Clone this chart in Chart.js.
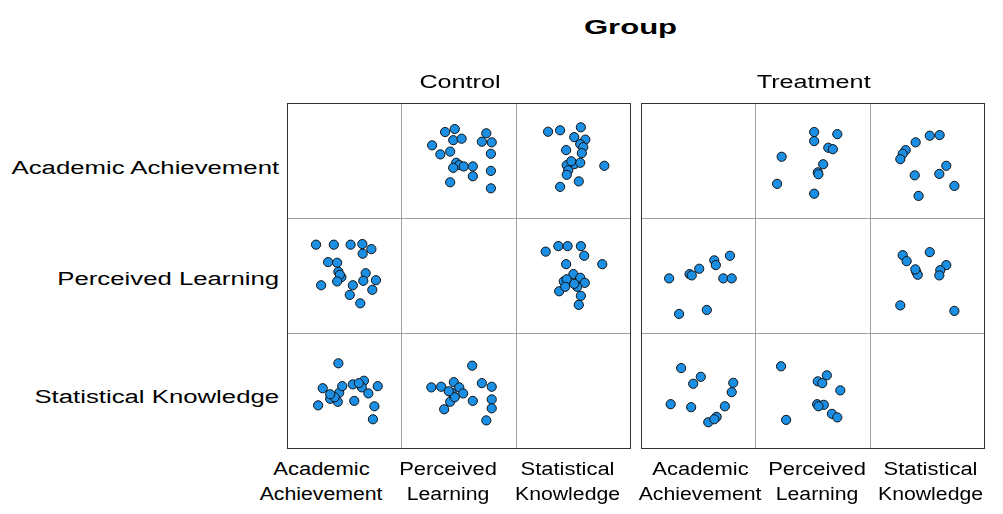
<!DOCTYPE html>
<html>
<head>
<meta charset="utf-8">
<title>Scatterplot matrix by group</title>
<script src="https://cdn.jsdelivr.net/npm/chart.js@4.4.1/dist/chart.umd.min.js"></script>
<style>
    body {
        margin: 0;
        background: #ffffff;
        font-family: "Liberation Sans", Arial, sans-serif;
        color: #000000;
    }

    #page {
        position: relative;
        width: 1003px;
        height: 514px;
        overflow: hidden;
    }

    .label {
        position: absolute;
        white-space: nowrap;
        font-size: 18px;
        line-height: 22px;
    }

    .title {
        font-weight: bold;
        font-size: 21px;
    }

    .cell {
        position: absolute;
    }

    .frame {
        position: absolute;
        box-sizing: border-box;
        border: 1px solid #333333;
        pointer-events: none;
    }

    .rule {
        position: absolute;
        background: #a0a0a0;
    }
</style>
</head>
<body>

<div id="page"></div>

<script>

const variables = ["Academic Achievement", "Perceived Learning", "Statistical Knowledge"];
const columnLabels = [
    ["Academic", "Achievement"],
    ["Perceived", "Learning"],
    ["Statistical", "Knowledge"]
];
const groups = ["Control", "Treatment"];

// scores on a 0-100 scale, each pair is [x, y]

// Control group
const controlLearningAchievement = [
    [37.1, 77.4], [46.4, 80.3], [44.9, 69.6], [53.0, 71.0], [24.6, 64.6],
    [32.5, 55.9], [42.0, 58.6], [47.8, 47.8], [50.7, 45.5], [55.1, 44.3],
    [44.9, 42.9], [63.8, 44.3], [63.8, 34.8], [42.0, 29.0], [76.8, 76.2],
    [72.5, 68.1], [82.0, 67.5], [81.2, 56.5], [81.2, 40.0], [81.2, 23.2]
];
const controlKnowledgeAchievement = [
    [25.5, 77.7], [37.1, 79.1], [57.1, 82.0], [50.7, 72.5], [61.4, 70.1],
    [56.5, 65.8], [59.4, 62.9], [42.9, 60.0], [58.0, 57.1], [50.7, 46.4],
    [43.5, 45.5], [56.5, 47.8], [44.9, 40.6], [43.5, 36.2], [37.1, 24.6],
    [55.1, 29.9], [79.7, 44.9], [47.8, 49.3]
];
const controlAchievementLearning = [
    [22.6, 79.7], [39.7, 79.7], [55.9, 79.7], [67.2, 80.3], [75.9, 75.4],
    [67.5, 71.0], [34.2, 62.9], [42.9, 62.3], [44.1, 53.6], [47.0, 48.4],
    [45.5, 50.7], [42.9, 44.3], [27.5, 40.6], [58.0, 40.6], [55.1, 31.3],
    [65.2, 23.2], [70.4, 52.2], [68.1, 44.9], [80.3, 45.5], [76.8, 36.2]
];
const controlKnowledgeLearning = [
    [23.2, 73.0], [35.4, 78.3], [44.3, 78.3], [57.1, 78.3], [60.3, 69.0],
    [77.7, 60.9], [42.9, 60.9], [49.9, 51.3], [56.5, 47.8], [40.6, 44.3],
    [43.5, 46.4], [60.9, 42.9], [53.6, 39.1], [36.2, 34.8], [42.0, 39.1],
    [57.1, 30.4], [55.1, 21.7], [50.7, 42.0]
];
const controlAchievementKnowledge = [
    [44.1, 76.2], [29.0, 52.2], [24.6, 35.7], [36.2, 42.0], [43.5, 39.1],
    [44.9, 47.8], [47.8, 54.2], [58.0, 55.9], [59.4, 40.0], [68.7, 59.4],
    [66.7, 53.0], [73.0, 47.2], [82.0, 54.2], [78.8, 34.8], [77.4, 22.3],
    [40.6, 43.5], [63.8, 57.1], [36.2, 46.4]
];
const controlLearningKnowledge = [
    [63.2, 73.9], [23.8, 53.0], [33.3, 53.6], [45.5, 58.0], [50.7, 53.0],
    [43.5, 47.8], [54.5, 47.2], [63.8, 40.0], [42.0, 39.1], [36.2, 31.9],
    [46.4, 43.5], [72.5, 57.1], [82.0, 53.6], [82.0, 41.4], [82.0, 32.8],
    [76.8, 21.2], [40.6, 49.3]
];

// Treatment group
const treatmentLearningAchievement = [
    [51.6, 77.4], [51.6, 68.7], [73.9, 75.4], [65.2, 62.3], [69.6, 60.9],
    [20.3, 53.6], [60.3, 46.4], [55.1, 38.6], [55.7, 36.8], [15.9, 27.5],
    [51.6, 18.0]
];
const treatmentKnowledgeAchievement = [
    [52.2, 73.9], [61.7, 74.5], [38.6, 67.5], [29.0, 60.0], [26.1, 56.5],
    [23.8, 51.3], [37.7, 35.7], [41.4, 15.9], [61.4, 37.1], [68.1, 44.9],
    [75.9, 25.5]
];
const treatmentAchievementLearning = [
    [21.7, 47.2], [41.4, 51.3], [43.5, 50.1], [50.7, 56.5], [65.2, 64.6],
    [66.7, 60.0], [80.3, 69.0], [73.9, 47.2], [82.0, 47.2], [31.3, 13.0],
    [58.0, 16.8]
];
const treatmentKnowledgeLearning = [
    [26.1, 69.6], [29.9, 63.8], [39.1, 53.6], [40.6, 50.7], [52.2, 72.5],
    [68.1, 60.0], [62.3, 55.1], [61.4, 50.1], [23.8, 21.2], [75.9, 15.9],
    [38.3, 55.9]
];
const treatmentAchievementKnowledge = [
    [33.3, 71.6], [44.9, 56.5], [52.2, 63.2], [23.2, 36.8], [42.9, 33.9],
    [59.4, 19.4], [67.5, 24.6], [75.4, 34.8], [82.0, 48.4], [83.5, 57.4],
    [65.2, 22.3]
];
const treatmentLearningKnowledge = [
    [19.7, 73.3], [55.1, 58.8], [63.8, 64.6], [59.4, 57.1], [76.8, 50.1],
    [54.5, 36.8], [60.9, 36.2], [55.7, 34.8], [68.7, 27.5], [73.9, 24.1],
    [24.6, 21.7]
];

// [row][column] -> pairs, null on the diagonal
const matrices = [
    [
        [null, controlLearningAchievement, controlKnowledgeAchievement],
        [controlAchievementLearning, null, controlKnowledgeLearning],
        [controlAchievementKnowledge, controlLearningKnowledge, null]
    ],
    [
        [null, treatmentLearningAchievement, treatmentKnowledgeAchievement],
        [treatmentAchievementLearning, null, treatmentKnowledgeLearning],
        [treatmentAchievementKnowledge, treatmentLearningKnowledge, null]
    ]
];

const panelLefts = [287, 641];
const panelTop = 103;
const cellSize = 115;
const panelWidth = 343;
const panelHeight = 345;

// bottom labels are nudged so neighbouring words do not collide
const bottomLabelShift = [[-23, -10, -5], [2, 5, 4]];
const rowLabelTops = [157, 268, 386];

const page = document.getElementById("page");

// the labels use a horizontally widened face
function addLabel(text, top, extraClass, stretch, origin) {
    const div = document.createElement("div");
    div.className = "label" + (extraClass ? " " + extraClass : "");
    div.textContent = text;
    div.style.left = "0px";
    div.style.top = top + "px";
    div.style.transform = "scaleX(" + stretch + ")";
    div.style.transformOrigin = origin + " center";
    page.appendChild(div);
    return div;
}

function centerLabel(text, centerX, top, extraClass, stretch) {
    const div = addLabel(text, top, extraClass, stretch, "center");
    div.style.left = (centerX - div.offsetWidth / 2) + "px";
    return div;
}

function rightLabel(text, rightX, top, stretch) {
    const div = addLabel(text, top, "", stretch, "right");
    div.style.left = (rightX - div.offsetWidth) + "px";
    return div;
}

function drawCell(pairs, left, top) {

    const canvas = document.createElement("canvas");
    canvas.className = "cell";
    canvas.width = cellSize;
    canvas.height = cellSize;
    canvas.style.left = left + "px";
    canvas.style.top = top + "px";
    page.appendChild(canvas);

    new Chart(canvas.getContext("2d"), {

        type: "scatter",

        data: {
            datasets: [
                {
                    data: pairs.map(p => ({ x: p[0], y: p[1] })),
                    backgroundColor: "#1b8fe4",
                    borderColor: "#111111",
                    borderWidth: 1,
                    pointRadius: 4.6,
                    pointHoverRadius: 4.6
                }
            ]
        },

        options: {
            responsive: false,
            animation: false,
            layout: { padding: 0 },
            plugins: {
                legend: { display: false },
                tooltip: { enabled: false }
            },
            scales: {
                x: { type: "linear", min: 0, max: 100, display: false },
                y: { type: "linear", min: 0, max: 100, display: false }
            }
        }

    });

}

function drawPanel(g) {

    const left = panelLefts[g];

    for (let r = 0; r < 3; r++) {
        for (let c = 0; c < 3; c++) {
            const pairs = matrices[g][r][c];
            if (pairs) {
                drawCell(pairs, left + c * 114.33, panelTop + r * cellSize);
            }
        }
    }

    // inner grid rules
    for (let i = 1; i < 3; i++) {
        const v = document.createElement("div");
        v.className = "rule";
        v.style.left = Math.round(left + i * 114.33) + "px";
        v.style.top = panelTop + "px";
        v.style.width = "1px";
        v.style.height = panelHeight + "px";
        page.appendChild(v);

        const h = document.createElement("div");
        h.className = "rule";
        h.style.left = left + "px";
        h.style.top = (panelTop + i * cellSize) + "px";
        h.style.width = panelWidth + "px";
        h.style.height = "1px";
        page.appendChild(h);
    }

    const frame = document.createElement("div");
    frame.className = "frame";
    frame.style.left = left + "px";
    frame.style.top = panelTop + "px";
    frame.style.width = (panelWidth + 1) + "px";
    frame.style.height = (panelHeight + 1) + "px";
    page.appendChild(frame);

    centerLabel(groups[g], left + panelWidth / 2 + 1, 71, "", 1.4);

    for (let c = 0; c < 3; c++) {
        const cx = left + c * 114.33 + 57 + bottomLabelShift[g][c];
        centerLabel(columnLabels[c][0], cx, 458, "", 1.22);
        centerLabel(columnLabels[c][1], cx, 483, "", 1.18);
    }

}

centerLabel("Group", 630, 16, "title", 1.48);

for (let r = 0; r < 3; r++) {
    rightLabel(variables[r], 279, rowLabelTops[r], 1.43);
}

drawPanel(0);
drawPanel(1);

</script>

</body>
</html>
